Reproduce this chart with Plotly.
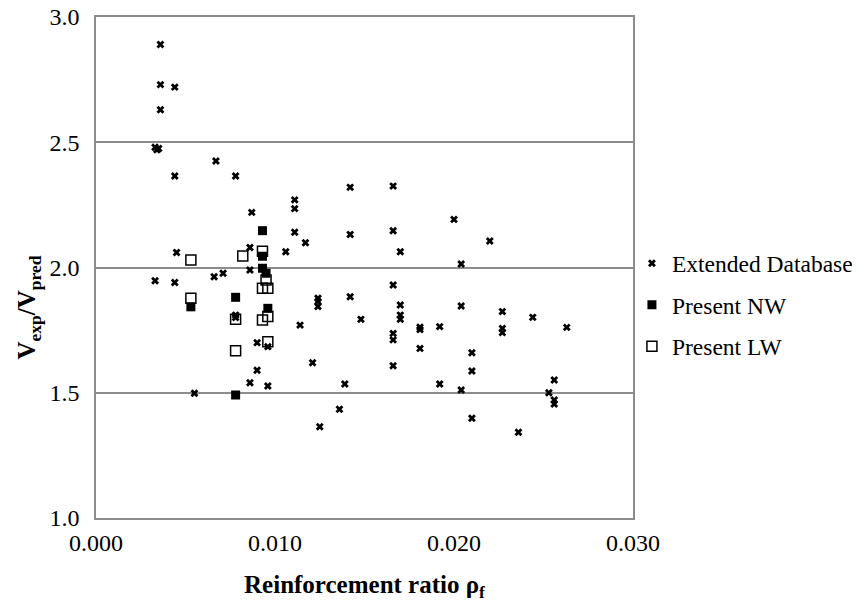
import plotly.graph_objects as go

# Extended database (rho_f, Vexp/Vpred)
ext_rho = [0.0036, 0.0036, 0.0044, 0.0036, 0.0033, 0.0034, 0.0035, 0.0067, 0.0044, 0.0078,
           0.0087, 0.0045, 0.0086, 0.0086, 0.0033, 0.0044, 0.0066, 0.0071, 0.0078, 0.0078,
           0.0090, 0.0090, 0.0086, 0.0055, 0.0111, 0.0111, 0.0142, 0.0166, 0.0111, 0.0117,
           0.0142, 0.0166, 0.0106, 0.0170, 0.0166, 0.0142, 0.0124, 0.0124, 0.0124, 0.0148,
           0.0114, 0.0170, 0.0170, 0.0170, 0.0181, 0.0181, 0.0192, 0.0166, 0.0166, 0.0181,
           0.0096, 0.0121, 0.0166, 0.0096, 0.0139, 0.0192, 0.0136, 0.0125, 0.0200, 0.0220,
           0.0204, 0.0204, 0.0227, 0.0244, 0.0263, 0.0227, 0.0227, 0.0210, 0.0210, 0.0204,
           0.0256, 0.0253, 0.0256, 0.0256, 0.0210, 0.0236]
ext_v = [2.89, 2.73, 2.72, 2.63, 2.48, 2.47, 2.475, 2.425, 2.365, 2.365,
         2.22, 2.06, 2.08, 1.99, 1.947, 1.94, 1.963, 1.977, 1.81, 1.80,
         1.70, 1.59, 1.54, 1.498, 2.27, 2.235, 2.32, 2.325, 2.141, 2.099,
         2.132, 2.147, 2.063, 2.063, 1.93, 1.883, 1.877, 1.864, 1.844, 1.793,
         1.770, 1.850, 1.81, 1.793, 1.762, 1.752, 1.764, 1.737, 1.711, 1.677,
         1.684, 1.620, 1.608, 1.527, 1.535, 1.535, 1.434, 1.364, 2.192, 2.106,
         2.014, 1.846, 1.824, 1.801, 1.761, 1.757, 1.740, 1.660, 1.587, 1.511,
         1.551, 1.500, 1.471, 1.455, 1.398, 1.342]

# Present study, normal-weight concrete
nw_rho = [0.0053, 0.0078, 0.0078, 0.0093, 0.0093, 0.0093, 0.0095, 0.0096]
nw_v = [1.843, 1.881, 1.491, 2.147, 2.045, 1.997, 1.977, 1.837]

# Present study, lightweight concrete
lw_rho = [0.0053, 0.0053, 0.0082, 0.0078, 0.0078, 0.0093, 0.0095, 0.0093, 0.0096, 0.0093,
          0.0096, 0.0096]
lw_v = [2.030, 1.877, 2.046, 1.793, 1.668, 2.065, 1.950, 1.917, 1.917, 1.790,
        1.804, 1.704]

FONT = "Liberation Serif, Times New Roman, serif"
GRID = "#8c8c8c"

fig = go.Figure()
fig.add_trace(go.Scatter(
    x=ext_rho, y=ext_v, mode="markers", name="Extended Database",
    legendgroup="a",
    marker=dict(symbol="x", size=7, color="black", line=dict(width=0))))
fig.add_trace(go.Scatter(
    x=nw_rho, y=nw_v, mode="markers", name="Present NW",
    legendgroup="b",
    marker=dict(symbol="square", size=9, color="black", line=dict(width=0))))
fig.add_trace(go.Scatter(
    x=lw_rho, y=lw_v, mode="markers", name="Present LW",
    legendgroup="c",
    marker=dict(symbol="square-open", size=10, color="black", line=dict(width=1.5, color="black"))))

fig.update_layout(
    width=860, height=602,
    margin=dict(l=96, r=227, t=17, b=84, autoexpand=False),
    paper_bgcolor="white", plot_bgcolor="white",
    font=dict(family=FONT, size=23.5, color="black"),
    showlegend=True,
    legend=dict(x=0.998, y=0.552, xanchor="left", yanchor="top",
                font=dict(family=FONT, size=23.5, color="black"),
                traceorder="grouped", tracegroupgap=8,
                itemwidth=30, bgcolor="rgba(0,0,0,0)"),
    annotations=[dict(
        text="<b>V<sub>exp</sub>/V<sub>pred</sub></b>",
        xref="paper", yref="y", x=-0.125, y=1.84,
        xanchor="center", yanchor="middle", textangle=-90, showarrow=False,
        font=dict(family=FONT, size=25, color="black"))],
)
fig.update_xaxes(
    range=[0, 0.03], dtick=0.01, tick0=0, tickformat=".3f",
    showgrid=False, zeroline=False,
    showline=True, linecolor=GRID, linewidth=1.5, mirror=True,
    ticks="", ticklabelstandoff=2,
    tickfont=dict(family=FONT, size=24, color="black"),
    title=dict(text="<b>Reinforcement ratio ρ<sub>f</sub></b>",
               font=dict(family=FONT, size=25, color="black"), standoff=24),
)
fig.update_yaxes(
    range=[1, 3], dtick=0.5, tick0=1, tickformat=".1f",
    showgrid=True, gridcolor=GRID, gridwidth=1.5, zeroline=False,
    showline=True, linecolor=GRID, linewidth=1.5, mirror=True,
    ticks="", ticklabelstandoff=10,
    tickfont=dict(family=FONT, size=24, color="black"),
)

fig.write_html("out.html")
